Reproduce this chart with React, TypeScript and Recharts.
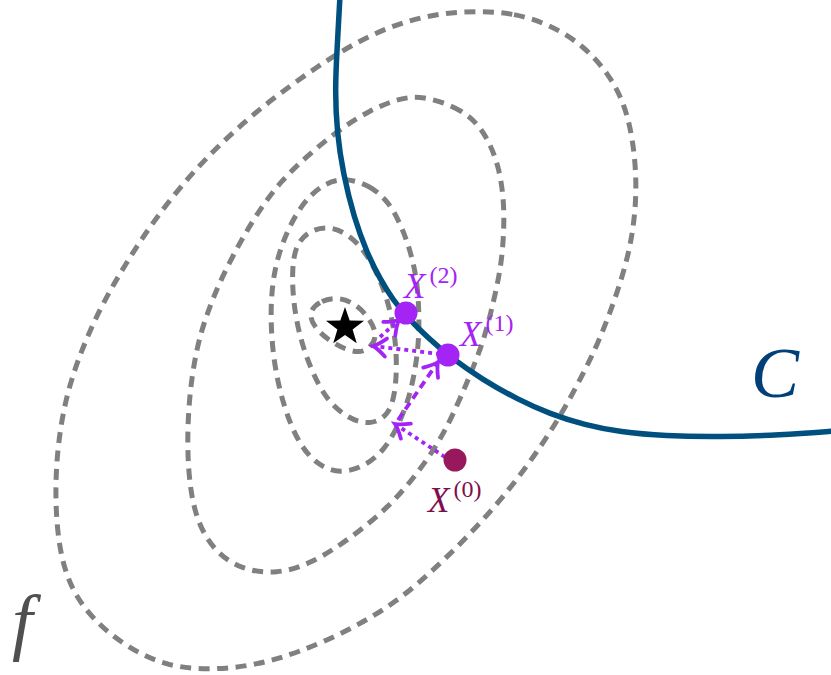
import React from "react";
import { ComposedChart, XAxis, YAxis, Line, ReferenceDot } from "recharts";

type Pt = { x: number; y: number };

// level sets of f, inner to outer (closed loops)
const levelA: Pt[] = [
  { x: 308, y: 312 }, { x: 321, y: 300 }, { x: 340, y: 297 }, { x: 357, y: 305 },
  { x: 369, y: 318 }, { x: 379, y: 337 }, { x: 365, y: 354 }, { x: 346, y: 350 },
  { x: 328, y: 340 }, { x: 314, y: 327 },
];
const levelB: Pt[] = [
  { x: 330, y: 226 }, { x: 350, y: 235 }, { x: 367, y: 254 }, { x: 380, y: 279 },
  { x: 389, y: 305 }, { x: 395, y: 335 }, { x: 397, y: 365 }, { x: 395, y: 395 },
  { x: 388, y: 416 }, { x: 370, y: 425 }, { x: 349, y: 419 }, { x: 327, y: 401 },
  { x: 311, y: 370 }, { x: 299, y: 335 }, { x: 293, y: 300 }, { x: 292, y: 268 },
  { x: 296, y: 244 }, { x: 310, y: 230 },
];
const levelC: Pt[] = [
  { x: 342, y: 177 }, { x: 370, y: 185 }, { x: 389, y: 202 }, { x: 402, y: 227 },
  { x: 411, y: 253 }, { x: 417, y: 280 }, { x: 419, y: 310 }, { x: 419, y: 340 },
  { x: 415, y: 372 }, { x: 408, y: 402 }, { x: 397, y: 428 }, { x: 385, y: 449 },
  { x: 366, y: 466 }, { x: 340, y: 474 }, { x: 317, y: 465 }, { x: 298, y: 443 },
  { x: 283, y: 405 }, { x: 273, y: 360 }, { x: 270, y: 310 }, { x: 274, y: 269 },
  { x: 285, y: 235 }, { x: 301, y: 205 }, { x: 320, y: 186 },
];
const levelD: Pt[] = [
  { x: 423, y: 96 }, { x: 454, y: 106 }, { x: 475, y: 120 }, { x: 489, y: 141 },
  { x: 499, y: 167 }, { x: 504, y: 200 }, { x: 504, y: 233 }, { x: 501, y: 267 },
  { x: 494, y: 300 }, { x: 484, y: 340 }, { x: 471, y: 373 }, { x: 457, y: 406 },
  { x: 440, y: 441 }, { x: 417, y: 474 }, { x: 389, y: 507 }, { x: 351, y: 538 },
  { x: 311, y: 564 }, { x: 277, y: 574 }, { x: 242, y: 570 }, { x: 215, y: 552 },
  { x: 198, y: 524 }, { x: 190, y: 490 }, { x: 187, y: 447 }, { x: 189, y: 397 },
  { x: 196, y: 350 }, { x: 206, y: 316 }, { x: 220, y: 281 }, { x: 240, y: 242 },
  { x: 260, y: 209 }, { x: 281, y: 181 }, { x: 306, y: 157 }, { x: 337, y: 131 },
  { x: 370, y: 110 }, { x: 400, y: 98 },
];
const levelE: Pt[] = [
  { x: 477, y: 11 }, { x: 514, y: 13 }, { x: 551, y: 25 }, { x: 584, y: 46 },
  { x: 608, y: 73 }, { x: 625, y: 104 }, { x: 634, y: 145 }, { x: 637, y: 190 },
  { x: 633, y: 233 }, { x: 625, y: 268 }, { x: 614, y: 302 }, { x: 598, y: 344 },
  { x: 578, y: 384 }, { x: 558, y: 420 }, { x: 535, y: 455 }, { x: 509, y: 490 },
  { x: 477, y: 527 }, { x: 437, y: 567 }, { x: 397, y: 602 }, { x: 350, y: 630 },
  { x: 300, y: 652 }, { x: 257, y: 665 }, { x: 214, y: 670 }, { x: 168, y: 667 },
  { x: 128, y: 648 }, { x: 95, y: 622 }, { x: 71, y: 590 }, { x: 59, y: 550 },
  { x: 55, y: 500 }, { x: 57, y: 450 }, { x: 65, y: 400 }, { x: 79, y: 356 },
  { x: 99, y: 310 }, { x: 123, y: 268 }, { x: 150, y: 226 }, { x: 180, y: 187 },
  { x: 211, y: 153 }, { x: 243, y: 123 }, { x: 275, y: 97 }, { x: 308, y: 73 },
  { x: 343, y: 50 }, { x: 377, y: 32 }, { x: 410, y: 20 }, { x: 443, y: 13 },
];
const levels = [levelA, levelB, levelC, levelD, levelE];

// constraint curve C
const constraint: Pt[] = [
  { x: 340, y: -4 }, { x: 337, y: 50 }, { x: 335, y: 90 }, { x: 337, y: 133 },
  { x: 343, y: 173 }, { x: 354, y: 218 }, { x: 367, y: 253 }, { x: 380, y: 279 },
  { x: 393, y: 300 }, { x: 408, y: 318 }, { x: 428, y: 338 }, { x: 450, y: 357 },
  { x: 483, y: 380 }, { x: 517, y: 399 }, { x: 550, y: 414 }, { x: 585, y: 425 },
  { x: 620, y: 432 }, { x: 665, y: 436 }, { x: 720, y: 437 }, { x: 780, y: 435 },
  { x: 835, y: 431 },
];

// steps: gradient step then projection back onto C
const steps = [
  { from: { x: 445, y: 457 }, to: { x: 395, y: 424 }, kind: "dot" },
  { from: { x: 398, y: 420 }, to: { x: 438, y: 362 }, kind: "dash" },
  { from: { x: 440, y: 354 }, to: { x: 373, y: 346 }, kind: "dot" },
  { from: { x: 380, y: 337 }, to: { x: 399, y: 320 }, kind: "dot" },
];

const iterates = [
  { name: "0", x: 455, y: 460, color: "#97185d", labelX: 428, labelY: 512 },
  { name: "1", x: 448, y: 355, color: "#a324f4", labelX: 460, labelY: 346 },
  { name: "2", x: 406, y: 313, color: "#a324f4", labelX: 404, labelY: 298 },
];
const labelColors: Record<string, string> = { "0": "#7e0f4e", "1": "#a324f4", "2": "#a324f4" };

const optimum = { x: 345, y: 327 };
const curveLabel = { text: "C", x: 751, y: 397 };
const fLabel = { text: "f", x: 12, y: 646 };

const GRAY = "#808080";
const BLUE = "#00507f";
const PURPLE = "#a324f4";
const FONT = "'Liberation Serif', 'DejaVu Serif', serif";

function Star({ cx, cy }: any) {
  const pts: string[] = [];
  for (let i = 0; i < 10; i++) {
    const r = i % 2 === 0 ? 20 : 8;
    const a = -Math.PI / 2 + (i * Math.PI) / 5;
    pts.push(`${cx + r * Math.cos(a)},${cy + r * Math.sin(a)}`);
  }
  return <polygon points={pts.join(" ")} fill="#000" />;
}

function Head({ cx, cy, angle }: any) {
  return (
    <path
      d="M -13 -9 Q -5 -2 0 0 Q -5 2 -13 9"
      transform={`translate(${cx},${cy}) rotate(${angle})`}
      fill="none"
      stroke={PURPLE}
      strokeWidth={3.8}
      strokeLinecap="round"
    />
  );
}

export default function App() {
  return (
    <div style={{ position: "absolute", left: 0, top: 0 }}>
      <ComposedChart width={831} height={675} margin={{ top: 0, right: 0, bottom: 0, left: 0 }}>
        <XAxis hide type="number" dataKey="x" domain={[0, 831]} allowDataOverflow />
        <YAxis hide type="number" dataKey="y" domain={[0, 675]} reversed allowDataOverflow />
        {levels.map((lv, i) => (
          <Line
            key={"lv" + i}
            data={lv}
            dataKey="y"
            type="basisClosed"
            stroke={GRAY}
            strokeWidth={5}
            strokeDasharray="11 7.5"
            dot={false}
            activeDot={false}
            isAnimationActive={false}
          />
        ))}
        <Line
          data={constraint}
          dataKey="y"
          type="basis"
          stroke={BLUE}
          strokeWidth={5.5}
          dot={false}
          activeDot={false}
          isAnimationActive={false}
        />
        {steps.map((s, i) => (
          <Line
            key={"st" + i}
            data={[s.from, s.to]}
            dataKey="y"
            type="linear"
            stroke={PURPLE}
            strokeWidth={3.8}
            strokeDasharray={s.kind === "dot" ? "4 4" : "8 5"}
            dot={false}
            activeDot={false}
            isAnimationActive={false}
          />
        ))}
        {steps.map((s, i) => {
          const angle = (Math.atan2(s.to.y - s.from.y, s.to.x - s.from.x) * 180) / Math.PI;
          return (
            <ReferenceDot
              key={"hd" + i}
              x={s.to.x}
              y={s.to.y}
              shape={(p: any) => <Head cx={p.cx} cy={p.cy} angle={angle} />}
            />
          );
        })}
        {iterates.map((it) => (
          <ReferenceDot key={"pt" + it.name} x={it.x} y={it.y} r={11.5} fill={it.color} stroke="none" />
        ))}
        <ReferenceDot x={optimum.x} y={optimum.y} shape={(p: any) => <Star cx={p.cx} cy={p.cy} />} />
        {iterates.map((it) => (
          <ReferenceDot
            key={"lb" + it.name}
            x={it.labelX}
            y={it.labelY}
            shape={(p: any) => (
              <text x={p.cx} y={p.cy} fontFamily={FONT} fill={labelColors[it.name]}>
                <tspan fontSize={35} fontStyle="italic">X</tspan>
                <tspan fontSize={24} dx={4} dy={-15}>({it.name})</tspan>
              </text>
            )}
          />
        ))}
        <ReferenceDot
          x={curveLabel.x}
          y={curveLabel.y}
          shape={(p: any) => (
            <text x={p.cx} y={p.cy} fontFamily={FONT} fontStyle="italic" fontSize={72} fill="#003f78">
              {curveLabel.text}
            </text>
          )}
        />
        <ReferenceDot
          x={fLabel.x}
          y={fLabel.y}
          shape={(p: any) => (
            <text x={p.cx} y={p.cy} fontFamily={FONT} fontStyle="italic" fontSize={74} fill="#505050">
              {fLabel.text}
            </text>
          )}
        />
      </ComposedChart>
    </div>
  );
}
